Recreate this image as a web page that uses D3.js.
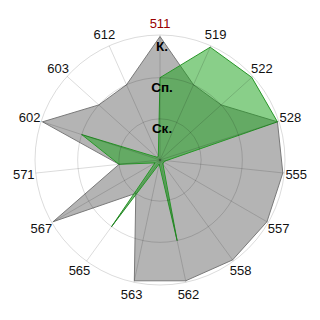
<!DOCTYPE html>
<html>
<head>
<meta charset="utf-8">
<script src="https://cdn.jsdelivr.net/npm/d3@7"></script>
<style>
  html, body { margin: 0; padding: 0; background: #fff; }
  svg { display: block; }
  text { font-family: Arial, "Liberation Sans", sans-serif; }
</style>
</head>
<body>
<svg id="chart" width="320" height="320"></svg>
<script>
const categories = ["511","519","522","528","555","557","558","562","563","565","567","571","602","603","612"];
const greySeries = [3, 2, 2, 3, 3, 3, 3, 3, 3, 1, 3, 1, 3, 2, 2];
const greenSeries = [2, 3, 3, 3, 0.15, 0.1, 0.12, 2, 0.1, 2, 0.14, 1, 2, 0.1, 0.1];
const levels = [1, 2, 3];
const levelLabels = ["Ск.", "Сп.", "К."];
const highlighted = "511";

const W = 320, H = 320, cx = 160, cy = 160;
const svg = d3.select("#chart");
const g = svg.append("g").attr("transform", `translate(${cx},${cy})`);

const r = d3.scaleLinear().domain([0, 3]).range([0, 123.5]);
const step = 2 * Math.PI / categories.length;
const a = i => i * step;

const line = d3.lineRadial()
  .angle((d, i) => a(i))
  .radius(d => r(d))
  .curve(d3.curveLinearClosed);

// grey series
g.append("path")
  .datum(greySeries)
  .attr("d", line)
  .attr("fill", "#b4b4b4")
  .attr("stroke", "#7a7a7a")
  .attr("stroke-width", 1);

// green series
g.append("path")
  .datum(greenSeries)
  .attr("d", line)
  .attr("fill", "rgb(20,160,20)")
  .attr("fill-opacity", 0.5)
  .attr("stroke", "rgb(40,150,40)")
  .attr("stroke-width", 1);

// grid circles
const outerR = r(3) + 1.5;
g.selectAll("circle.grid")
  .data(levels)
  .join("circle")
  .attr("class", "grid")
  .attr("r", d => d === 3 ? outerR : r(d))
  .attr("fill", "none")
  .attr("stroke", "rgba(0,0,0,0.14)")
  .attr("stroke-width", 1);

// spokes
g.selectAll("line.spoke")
  .data(categories)
  .join("line")
  .attr("class", "spoke")
  .attr("x1", 0).attr("y1", 0)
  .attr("x2", (d, i) => outerR * Math.sin(a(i)))
  .attr("y2", (d, i) => -outerR * Math.cos(a(i)))
  .attr("stroke", "rgba(0,0,0,0.14)")
  .attr("stroke-width", 1);

// category labels
const labelR = 137;
g.selectAll("text.cat")
  .data(categories)
  .join("text")
  .attr("class", "cat")
  .attr("x", (d, i) => labelR * Math.sin(a(i)))
  .attr("y", (d, i) => -labelR * Math.cos(a(i)))
  .attr("text-anchor", "middle")
  .attr("dominant-baseline", "central")
  .attr("font-size", "13px")
  .attr("fill", d => d === highlighted ? "#990000" : "#111")
  .text(d => d);

// level labels
g.selectAll("text.lvl")
  .data(levels)
  .join("text")
  .attr("class", "lvl")
  .attr("x", 2)
  .attr("y", d => -r(d) + 14)
  .attr("text-anchor", "middle")
  .attr("font-size", "13.5px")
  .attr("font-weight", "bold")
  .attr("fill", "#000")
  .text((d, i) => levelLabels[i]);
</script>
</body>
</html>
